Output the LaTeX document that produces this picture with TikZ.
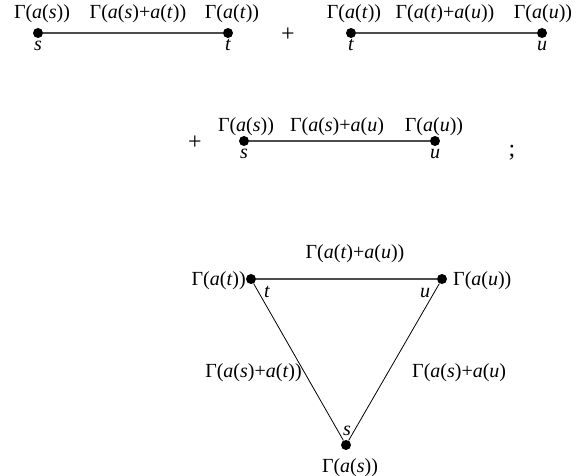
\documentclass[tikz,border=0pt]{standalone}
\usepackage{fontspec}
\setmainfont{Liberation Serif}
\usetikzlibrary{positioning}
\newcommand{\ga}[1]{Γ(#1)}
\newcommand{\av}[1]{\textit{a}(\textit{#1})}

\begin{document}
\begin{tikzpicture}[x=1pt,y=-1pt,font=\fontsize{20}{24}\selectfont,
  vtx/.style={circle,fill,inner sep=0pt,minimum size=10pt},
  hline/.style={draw=black!70,line width=1.3pt},
  sline/.style={draw,line width=0.8pt},
  txt/.style={inner sep=0pt,anchor=base}]
\useasboundingbox (0,0) rectangle (584,476);
% two-point pieces
\node[vtx] (s1) at (38,33) {};
\node[vtx] (t1) at (228,33) {};
\node[vtx] (t2) at (351,33) {};
\node[vtx] (u2) at (542,33) {};
\node[vtx] (s4) at (244,141) {};
\node[vtx] (u4) at (435,141) {};
\draw[hline] (s1) -- (t1);
\draw[hline] (t2) -- (u2);
\draw[hline] (s4) -- (u4);
\foreach \nm/\x/\y/\lab in {g1/42/19/{\ga{\av{s}}},g2/138/19/{\ga{\av{s}+\av{t}}},g3/232/19/{\ga{\av{t}}},
  g4/354/19/{\ga{\av{t}}},g5/445/19/{\ga{\av{t}+\av{u}}},g6/543/19/{\ga{\av{u}}},
  g7/246/132/{\ga{\av{s}}},g8/337/132/{Γ(\av{s}+\av{u}},g9/434/132/{\ga{\av{u}}}}
  \node[txt] (\nm) at (\x,\y) {\lab};
\foreach \nm/\x/\y/\lab in {l1/38/51/s,l2/228/51/t,l3/351/51/t,l4/542/51/u,l5/244/159/s,l6/435/159/u}
  \node[txt] (\nm) at (\x,\y) {\textit{\lab}};
\node[font=\fontsize{24}{28}\selectfont] (p1) at (288,35) {+};
\node[font=\fontsize{24}{28}\selectfont] (p2) at (195,143) {+};
\node[txt,font=\fontsize{24}{28}\selectfont] (semi) at (512,157) {;};
% triangle
\node[vtx] (t3) at (251,279) {};
\node[vtx] (u3) at (442,279) {};
\node[vtx] (s3) at (346,445) {};
\draw[hline] (t3) -- (u3);
\draw[sline] (t3) -- (s3) -- (u3);
\node[txt,anchor=base east] (gt) at (246,285) {\ga{\av{t}}};
\node[txt,anchor=base west] (gu) at (453,285) {\ga{\av{u}}};
\node[txt] (gtu) at (355,258) {\ga{\av{t}+\av{u}}};
\node[txt,anchor=base east] (gst) at (302,377) {\ga{\av{s}+\av{t}}};
\node[txt,anchor=base west] (gsu) at (412,377) {Γ(\av{s}+\av{u}};
\node[txt] (gs) at (350,472) {\ga{\av{s}}};
\node[txt] (lt) at (267,297) {\textit{t}};
\node[txt] (lu) at (425,297) {\textit{u}};
\node[txt] (ls) at (347,435) {\textit{s}};
\end{tikzpicture}
\end{document}
